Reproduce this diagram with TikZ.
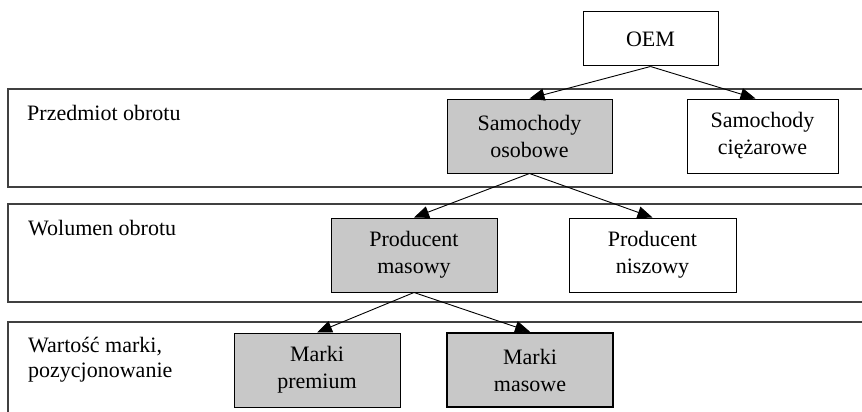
\documentclass[tikz,border=0pt]{standalone}
\usepackage{fontspec}
\setmainfont{LiberationSerif}[Extension=.ttf, UprightFont=*-Regular, BoldFont=*-Bold]
\usepackage{xcolor}
\usepackage{tikz}
\usetikzlibrary{arrows.meta}
\definecolor{boxfill}{HTML}{C8C8C8}
\definecolor{bandline}{HTML}{404040}

\begin{document}
\begin{tikzpicture}[x=1pt, y=-1pt,
    box/.style={rectangle, draw=black, line width=1pt, minimum height=74pt, align=center, inner sep=0pt, font=\fontsize{22}{27}\selectfont},
    grey/.style={box, fill=boxfill},
    band/.style={draw=bandline, line width=1.6pt},
    bandtext/.style={anchor=base west, inner sep=0pt, align=left, font=\fontsize{22}{25}\selectfont},
    arrow/.style={-{Triangle[length=15pt, width=12pt]}, line width=0.9pt, black}
  ]

    \useasboundingbox (0,0) rectangle (862,412);
    \clip (0,0) rectangle (862,412);

    \draw[band] (8,89) rectangle (880,187);
    \draw[band] (8,204) rectangle (880,302);
    \draw[band] (8,322) rectangle (880,440);

    \node[bandtext] (obrot) at (27,120) {Przedmiot obrotu};
    \node[bandtext] (wolumen) at (28,235) {Wolumen obrotu};
    \node[bandtext] (wartosc) at (28,377) {Wartość marki,\\pozycjonowanie};

    \node[box, minimum width=135pt, minimum height=54pt] (oem) at (650.5,39) {OEM};
    \node[grey, minimum width=165pt] (osobowe) at (529.5,136) {Samochody\\osobowe};
    \node[box, minimum width=151pt] (ciezarowe) at (762.5,136) {Samochody\\ciężarowe};
    \node[grey, minimum width=166pt] (masowy) at (414,255) {Producent\\masowy};
    \node[box, minimum width=167pt] (niszowy) at (652.5,255) {Producent\\niszowy};
    \node[grey, minimum width=166pt] (premium) at (317,370) {Marki\\premium};
    \node[grey, minimum width=166pt, line width=2.5pt] (masowe) at (530,370) {Marki\\masowe};

    \draw[arrow] (oem.south) -- (osobowe.north);
    \draw[arrow] (oem.south) -- ([xshift=-7pt]ciezarowe.north);
    \draw[arrow] (osobowe.south) -- (masowy.north);
    \draw[arrow] (osobowe.south) -- (niszowy.north);
    \draw[arrow] (masowy.south) -- (premium.north);
    \draw[arrow] (masowy.south) -- (masowe.north);

  \end{tikzpicture}
\end{document}
